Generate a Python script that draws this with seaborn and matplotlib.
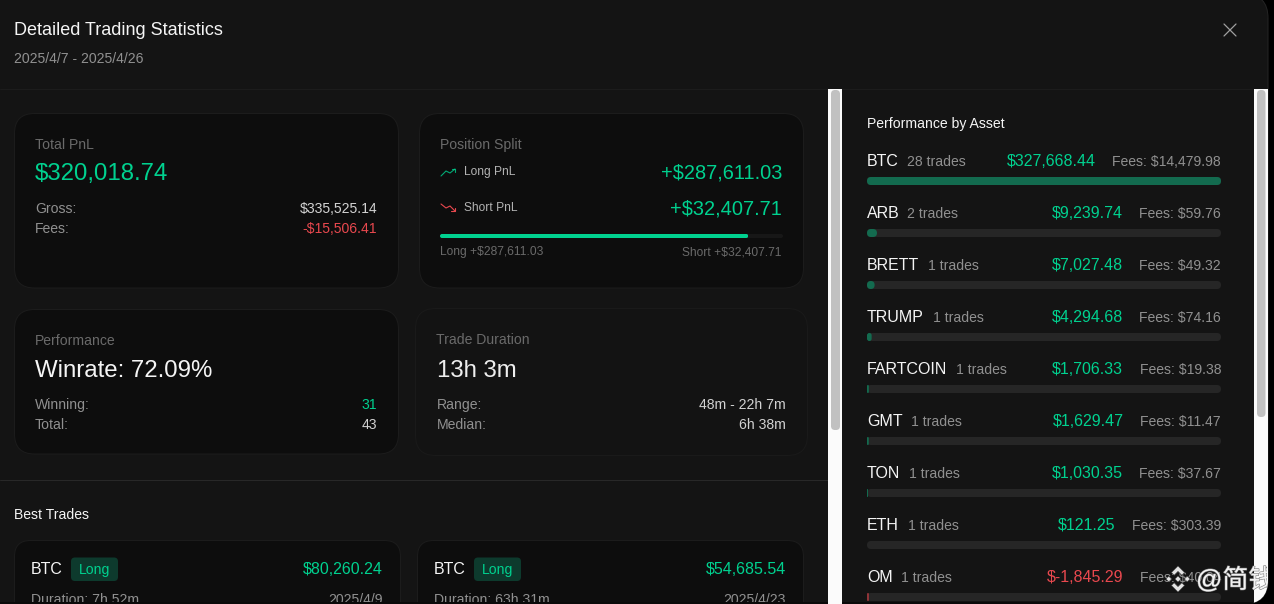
import matplotlib
matplotlib.use("Agg")
import matplotlib.pyplot as plt
import matplotlib.patheffects as pe
from matplotlib.patches import FancyBboxPatch, Rectangle, Polygon
import seaborn as sns
import pandas as pd

W, H = 1274, 604
MODAL = "#141414"; CARD = "#0d0d0d"; BORDER = "#1c1c1c"; GREEN = "#00d18f"; RED = "#e8484e"
DIMGREEN = "#136b4f"; TRACK = "#262626"; LIGHT = "#f5f5f5"; GREY = "#909090"; DIM = "#6a6a6a"; MID = "#d2d2d2"

# ---- data ----
assets = ["BTC", "ARB", "BRETT", "TRUMP", "FARTCOIN", "GMT", "TON", "ETH", "OM"]
asset_trades = [28, 2, 1, 1, 1, 1, 1, 1, 1]
asset_pnl = [327668.44, 9239.74, 7027.48, 4294.68, 1706.33, 1629.47, 1030.35, 121.25, -1845.29]
asset_fees = [14479.98, 59.76, 49.32, 74.16, 19.38, 11.47, 37.67, 303.39, 40.04]
long_pnl = 287611.03
short_pnl = 32407.71
total_pnl = 320018.74
gross = 335525.14
fees_total = 15506.41
winrate = 72.09
winning = 31
total_trades = 43
best_assets = ["BTC", "BTC"]
best_sides = ["Long", "Long"]
best_pnl = [80260.24, 54685.54]
best_durations = ["7h 52m", "63h 31m"]
best_dates = ["2025/4/9", "2025/4/23"]

sns.set_theme(style="dark")
plt.rcParams["font.family"] = ["Liberation Sans", "Noto Sans CJK SC", "DejaVu Sans"]

fig = plt.figure(figsize=(W / 100, H / 100), dpi=100, facecolor="#000000")
bg = fig.add_axes([0, 0, 1, 1])
bg.set_xlim(0, W); bg.set_ylim(H, 0); bg.axis("off")
view = Rectangle((0, 0), W, 602, transform=bg.transData)


def px(v):
    return v * 0.72


def txt(x, y, s, size, color=LIGHT, ha="left", **kw):
    t = bg.text(x, y + size * 0.08, s, fontsize=px(size), color=color, ha=ha, va="center", clip_on=True, **kw)
    t.set_clip_path(view)
    return t


def rrect(x0, y0, x1, y1, r, fc, ec="none", lw=0.72, z=1):
    p = FancyBboxPatch((x0 + r, y0 + r), x1 - x0 - 2 * r, y1 - y0 - 2 * r,
                       boxstyle=f"round,pad={r},rounding_size={r}", fc=fc, ec=ec, lw=lw, zorder=z)
    bg.add_patch(p)
    return p


def pbar(x0, x1, yc, h, categories, values, maxval, colors, track):
    """A horizontal seaborn bar panel with rounded tracks, one row per category."""
    n = len(categories)
    row = 52
    top = yc - row / 2
    ax = fig.add_axes([x0 / W, 1 - (top + n * row) / H, (x1 - x0) / W, n * row / H], facecolor="none")
    frame = pd.DataFrame({"cat": categories, "track": [maxval] * n, "val": values})
    sns.barplot(frame, y="cat", x="track", color=track, width=h / row, ax=ax, saturation=1, zorder=1, linewidth=0)
    sns.barplot(frame, y="cat", x="val", hue="cat", palette=dict(zip(categories, colors)), legend=False,
                width=h / row, ax=ax, saturation=1, zorder=2, linewidth=0)
    ax.set_xlim(0, maxval); ax.axis("off")
    fig.canvas.draw()
    inv = bg.transData.inverted()
    for b in ax.patches:
        (a0, b0), (a1, b1) = inv.transform(ax.transData.transform(b.get_bbox().get_points()))
        yy0, yy1 = sorted((b0, b1))
        r = min((yy1 - yy0) / 2, max(a1 - a0, 0.1) / 2)
        clip = FancyBboxPatch((a0 + r, yy0 + r), max(a1 - a0 - 2 * r, 0), yy1 - yy0 - 2 * r,
                              boxstyle=f"round,pad={r},rounding_size={r}", transform=bg.transData)
        b.set_clip_path(clip)
    return ax


# ---- modal ----
modal = rrect(-30, -6, 1268, 604, 24, MODAL, ec="#242424", z=0)
bg.add_patch(Rectangle((0, 570), 200, 34, fc=MODAL, ec="none", zorder=0))
bg.plot([0, 1253], [88.5, 88.5], color="#1c1c1c", lw=0.72, zorder=1)
bg.plot([0, 828], [479.5, 479.5], color="#282828", lw=0.72, zorder=1)
txt(14, 29, "Detailed Trading Statistics", 18)
txt(14, 57.5, "2025/4/7 - 2025/4/26", 14, GREY)
for d in ((1224, 24, 1236, 36), (1224, 36, 1236, 24)):
    bg.plot([d[0], d[2]], [d[1], d[3]], color="#a0a0a0", lw=0.9)

# ---- scrollbars ----
bg.add_patch(Rectangle((828, 89), 14, 515, fc="#fbfbfb", ec="none", zorder=3))
rrect(831, 90, 840, 430, 4, "#c1c1c1", z=4)
right_track = Rectangle((1253.5, 89), 14.5, 515, fc="#fbfbfb", ec="none", zorder=3)
bg.add_patch(right_track)
right_track.set_clip_path(modal)
rrect(1257, 90, 1265.5, 417, 4, "#c1c1c1", z=4)

# ---- Total PnL card ----
rrect(14.5, 113.5, 398.5, 288, 20, CARD, ec=BORDER)
txt(35, 144, "Total PnL", 14, DIM)
txt(35, 172.5, f"${total_pnl:,.2f}", 24, GREEN)
txt(35, 208, "Gross:", 14, GREY)
txt(35, 228, "Fees:", 14, GREY)
txt(377, 208, f"${gross:,.2f}", 14, MID, ha="right")
txt(377, 228, f"-${fees_total:,.2f}", 14, RED, ha="right")

# ---- Position split card ----
rrect(419.5, 113.5, 803.5, 288, 20, CARD, ec=BORDER)
txt(440, 144, "Position Split", 14, DIM)
bg.plot([441, 446, 450, 455], [176, 171, 173, 169], color=GREEN, lw=0.8, alpha=0.8)
bg.plot([452, 455, 455], [169, 169, 172], color=GREEN, lw=0.8, alpha=0.8)
bg.plot([441, 446, 450, 455], [204, 208, 206, 211], color=RED, lw=0.8)
bg.plot([451, 455, 455], [211, 211, 208], color=RED, lw=0.8)
txt(464, 171.5, "Long PnL", 12, "#b3b3b3")
txt(464, 207.5, "Short PnL", 12, "#b3b3b3")
txt(782, 171.5, f"+${long_pnl:,.2f}", 20, GREEN, ha="right")
txt(782, 207.5, f"+${short_pnl:,.2f}", 20, GREEN, ha="right")
pbar(440, 783, 236, 4, ["Long"], [long_pnl], long_pnl + short_pnl, [GREEN], "#171717")
txt(440, 251.5, f"Long +${long_pnl:,.2f}", 12, DIM)
txt(782, 251.5, f"Short +${short_pnl:,.2f}", 12, DIM, ha="right")

# ---- Performance card ----
rrect(14.5, 309.5, 398.5, 454, 20, CARD, ec=BORDER)
txt(35, 340, "Performance", 14, DIM)
txt(35, 369.5, f"Winrate: {winrate:.2f}%", 24, LIGHT)
txt(35, 404, "Winning:", 14, GREY)
txt(35, 424, "Total:", 14, GREY)
txt(377, 404, str(winning), 14, GREEN, ha="right")
txt(377, 424, str(total_trades), 14, MID, ha="right")

# ---- Trade duration card ----
rrect(415.5, 308.5, 807.5, 455.5, 20, "#131313", ec="#1a1a1a")
txt(436.5, 339, "Trade Duration", 14, DIM)
txt(437, 369, "13h 3m", 24, "#eeeeee")
txt(436.5, 404, "Range:", 14, GREY)
txt(436.5, 424, "Median:", 14, GREY)
txt(785.5, 404, "48m - 22h 7m", 14, MID, ha="right")
txt(785.5, 424, "6h 38m", 14, MID, ha="right")

# ---- Best trades ----
txt(14, 514, "Best Trades", 14, LIGHT)
card_x = [(14.5, 400.5, 31, 383), (417.5, 803.5, 434, 786)]
for i, (x0, x1, tx, rx) in enumerate(card_x):
    rrect(x0, 540.5, x1, 640, 16, CARD, ec=BORDER)
    txt(tx, 568.5, best_assets[i], 16, LIGHT)
    tag_x = tx + 40
    rrect(tag_x, 557.5, tag_x + 47, 581, 4, "#0d3a2d", z=2)
    bg.text(tag_x + 23.5, 570, best_sides[i], fontsize=px(14), color=GREEN, ha="center", va="center", zorder=3)
    txt(rx, 568.5, f"${best_pnl[i]:,.2f}", 16, GREEN, ha="right")
    txt(tx, 598.5, f"Duration: {best_durations[i]}", 14, GREY)
    txt(rx, 598.5, best_dates[i], 14, GREY, ha="right")

# ---- Performance by asset ----
txt(867, 123, "Performance by Asset", 14, LIGHT)
max_pnl = max(abs(v) for v in asset_pnl)
bar_vals = [abs(v) for v in asset_pnl]
bar_cols = [DIMGREEN if v >= 0 else "#8f3438" for v in asset_pnl]
pbar(867, 1221, 181, 8, assets, bar_vals, max_pnl, bar_cols, TRACK)

name_widths = [33, 33, 54, 59, 82, 37, 35, 34, 27]
for i, a in enumerate(assets):
    y = 160 + 52 * i
    txt(867, y, a, 16, LIGHT)
    txt(867 + name_widths[i] + 7, y + 1, f"{asset_trades[i]} trades", 14, GREY)
    fee_s = f"Fees: ${asset_fees[i]:,.2f}"
    ft = txt(1221, y + 1, fee_s, 14, GREY, ha="right")
    fw = ft.get_window_extent(fig.canvas.get_renderer()).width
    ps = f"${asset_pnl[i]:,.2f}" if asset_pnl[i] >= 0 else f"$-{abs(asset_pnl[i]):,.2f}"
    txt(1221 - fw - 16.5, y, ps, 16, GREEN if asset_pnl[i] >= 0 else RED, ha="right")

# ---- bottom edge of the modal ----
for a, b in ((0, 828), (842, 1253)):
    fig.add_artist(Rectangle((a / W, 0), (b - a) / W, 2 / H, transform=fig.transFigure,
                             fc="#0a0a0a", ec="none", zorder=5))

# ---- watermark ----
cx, cy = 1178, 579
mark = "#e4e4e4"
top_chev = [(0, -13), (6.5, -6.5), (3.8, -3.8), (0, -7.6), (-3.8, -3.8), (-6.5, -6.5)]
shapes = [top_chev, [(x, -y) for x, y in top_chev]]
for dx, r in [(-9.2, 2.8), (9.2, 2.8), (0, 3)]:
    shapes.append([(dx, -r), (dx + r, 0), (dx, r), (dx - r, 0)])
for s in shapes:
    bg.add_patch(Polygon([(cx + x, cy + y) for x, y in s], fc=mark, ec="#444444", lw=0.4, zorder=6))
wm = bg.text(1196, 580, "@简钱", fontsize=px(26), color="#f2f2f2", ha="left", va="center", zorder=6, clip_on=True,
             path_effects=[pe.withStroke(linewidth=0.8, foreground="#777777")])
wm.set_clip_path(Rectangle((1100, 540), 167, 64, transform=bg.transData))

fig.savefig("out.png", dpi=100, facecolor=fig.get_facecolor())
